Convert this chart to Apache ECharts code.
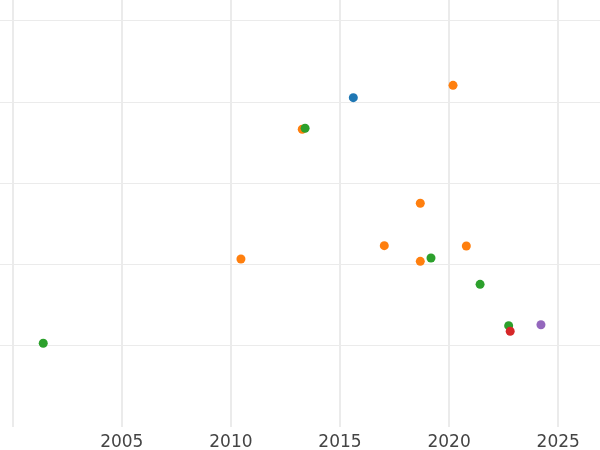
<!DOCTYPE html>
<html>
<head>
<meta charset="utf-8">
<script src="https://cdn.jsdelivr.net/npm/echarts@6/dist/echarts.min.js"></script>
<style>html,body{margin:0;padding:0;background:#fff}#c{width:600px;height:450px}</style>
</head>
<body>
<div id="c"></div>
<script>
const xTickLabels = ['2005', '2010', '2015', '2020', '2025'];
const blueData = [[2015.61, 4.053]];
const orangeData = [[2010.46, 2.068], [2013.27, 3.664], [2017.03, 2.232], [2018.68, 2.753], [2018.68, 2.039], [2020.18, 4.205], [2020.79, 2.228]];
const greenData = [[2001.40, 1.030], [2013.40, 3.676], [2019.17, 2.080], [2021.42, 1.756], [2022.73, 1.247]];
const redData = [[2022.80, 1.178]];
const purpleData = [[2024.21, 1.259]];
const seriesNames = ['blue', 'orange', 'green', 'red', 'purple'];
const seriesColors = ['#1f77b4', '#ff7f0e', '#2ca02c', '#d62728', '#9467bd'];
const seriesData = [blueData, orangeData, greenData, redData, purpleData];

const chart = echarts.init(document.getElementById('c'));
chart.setOption({
  animation: false,
  backgroundColor: '#ffffff',
  grid: {left: -96.4, right: -67.3, top: 0, bottom: 23, containLabel: false, outerBoundsMode: 'none'},
  xAxis: {
    type: 'value', min: 1995, max: 2030, interval: 5,
    axisLine: {show: false}, axisTick: {show: false},
    axisLabel: {
      color: '#444444', fontSize: 17, fontFamily: 'DejaVu Sans', margin: 7,
      formatter: v => xTickLabels.indexOf(String(Math.round(v))) >= 0 ? String(Math.round(v)) : ''
    },
    splitLine: {show: true, showMinLine: false, showMaxLine: false, lineStyle: {color: '#ebebeb', width: 2}}
  },
  yAxis: {
    type: 'value', min: 0, max: 5.255, interval: 1,
    axisLine: {show: false}, axisTick: {show: false}, axisLabel: {show: false},
    splitLine: {show: true, showMinLine: false, showMaxLine: false, lineStyle: {color: '#ebebeb', width: 1}}
  },
  series: seriesData.map((d, i) => ({
    name: seriesNames[i], type: 'scatter', data: d, symbolSize: 9,
    itemStyle: {color: seriesColors[i], opacity: 1}
  }))
});
</script>
</body>
</html>
